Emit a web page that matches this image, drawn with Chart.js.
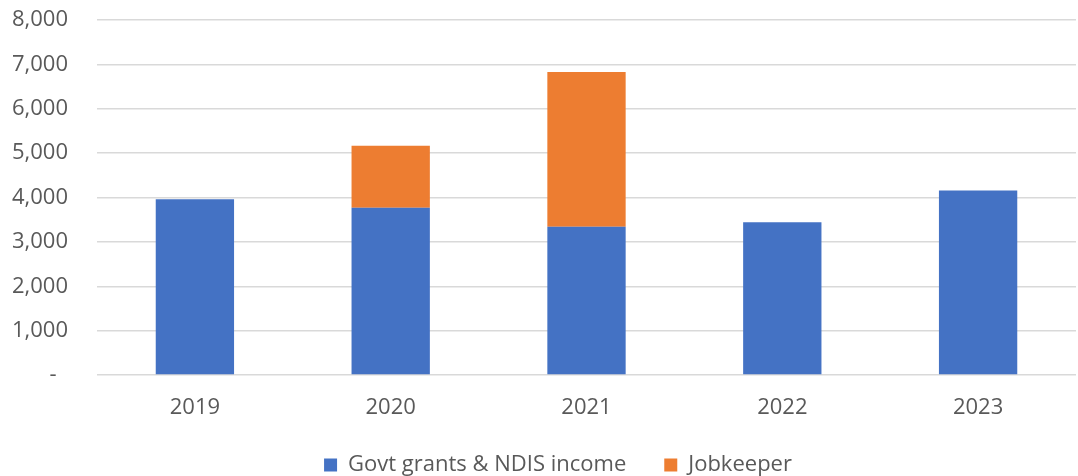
<!DOCTYPE html>
<html>
<head>
<meta charset="utf-8">
<title>Govt grants & Jobkeeper</title>
<script src="https://cdn.jsdelivr.net/npm/chart.js@4/dist/chart.umd.min.js"></script>
<style>
    html, body { margin: 0; padding: 0; background: #ffffff; }
    #wrap { position: relative; width: 1078px; height: 476px; }
</style>
</head>
<body>
<div id="wrap"><canvas id="chart"></canvas></div>
<script>
(function() {
    'use strict';

    // Chart data
    const years = ['2019', '2020', '2021', '2022', '2023'];
    const govtGrants = [3960, 3770, 3340, 3445, 4155];
    const jobkeeper = [0, 1395, 3486, 0, 0];
    const yTicks = [0, 1000, 2000, 3000, 4000, 5000, 6000, 7000, 8000];

    const textColor = '#595959';
    const fontFamily = '"Open Sans", "Liberation Sans", sans-serif';

    const fmt = new Intl.NumberFormat('en-US');

    // Nudge the legend row to the right so it sits under the plot centre
    const legendShift = {
        id: 'legendShift',
        afterLayout: function(chart) {
            if (chart.legend) {
                chart.legend.left += 20;
                chart.legend.right += 20;
            }
        }
    };

    const ctx = document.getElementById('chart');

    new Chart(ctx, {
        type: 'bar',
        data: {
            labels: years,
            datasets: [
                {
                    label: 'Govt grants & NDIS income',
                    data: govtGrants,
                    backgroundColor: '#4472C4',
                    barPercentage: 0.4,
                    categoryPercentage: 1
                },
                {
                    label: 'Jobkeeper',
                    data: jobkeeper,
                    backgroundColor: '#ED7D31',
                    barPercentage: 0.4,
                    categoryPercentage: 1
                }
            ]
        },
        plugins: [legendShift],
        options: {
            responsive: true,
            maintainAspectRatio: false,
            animation: false,
            events: [],
            layout: {
                padding: { top: 20, right: 2, left: 0, bottom: -10 }
            },
            plugins: {
                tooltip: { enabled: false },
                legend: {
                    position: 'bottom',
                    labels: {
                        color: textColor,
                        font: { family: fontFamily, size: 22 },
                        boxWidth: 13,
                        boxHeight: 13,
                        padding: 38
                    }
                }
            },
            scales: {
                x: {
                    stacked: true,
                    grid: { display: false },
                    border: { display: false },
                    ticks: {
                        color: textColor,
                        font: { family: fontFamily, size: 22 },
                        padding: 12
                    },
                    afterFit: function(scale) {
                        scale.height = 41;
                    }
                },
                y: {
                    stacked: true,
                    min: 0,
                    max: 8000,
                    afterBuildTicks: function(scale) {
                        scale.ticks = yTicks.map(function(v) { return { value: v }; });
                    },
                    grid: {
                        color: '#d9d9d9',
                        lineWidth: 1.5,
                        drawTicks: true,
                        tickLength: 29,
                        tickColor: 'rgba(0,0,0,0)'
                    },
                    border: { display: false },
                    ticks: {
                        color: textColor,
                        font: { family: fontFamily, size: 22 },
                        padding: 0,
                        callback: function(value) {
                            return value === 0 ? '-  ' : fmt.format(value);
                        }
                    },
                    afterFit: function(scale) {
                        scale.width = 97;
                    }
                }
            }
        }
    });
})();
</script>
</body>
</html>
